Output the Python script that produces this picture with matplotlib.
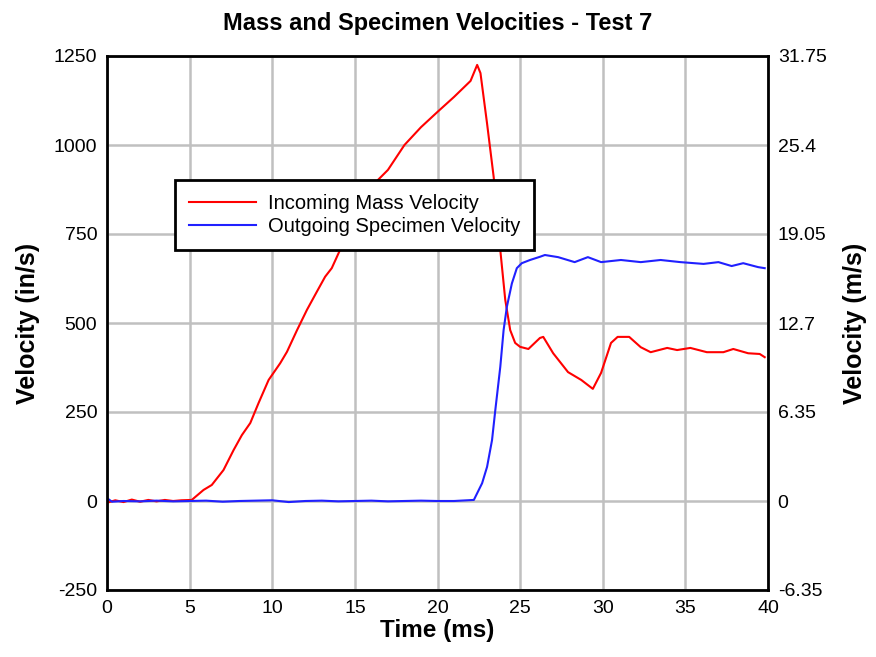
import matplotlib.pyplot as plt

plt.rcParams['font.family'] = ['Liberation Sans', 'DejaVu Sans']
plt.rcParams['axes.unicode_minus'] = False

# Incoming mass velocity (in/s)
t_mass = [0, 0.5, 1, 1.5, 2, 2.5, 3, 3.5, 4, 4.5, 5.13, 5.84, 6.34, 7.05, 7.66, 8.16,
          8.67, 9.17, 9.78, 10.48, 10.89, 11.5, 12.1, 12.7, 13.2, 13.6, 14.1, 15.2,
          16.4, 17.0, 18, 19, 20, 21, 22, 22.4, 22.6, 23.0, 23.4, 23.8, 24.1, 24.4,
          24.7, 25.0, 25.5, 26.2, 26.4, 27.0, 27.9, 28.7, 29.4, 29.9, 30.5, 30.9,
          31.6, 32.3, 32.9, 33.9, 34.5, 35.3, 36.3, 37.3, 37.9, 38.8, 39.5, 39.8]
v_mass = [-5, 2, -3, 4, -2, 3, -1, 3, 0, 2, 3, 31, 45, 87, 143, 185,
          219, 275, 340, 387, 419, 480, 537, 588, 630, 654, 705, 800,
          902, 930, 1000, 1050, 1093, 1135, 1180, 1225, 1202, 1060, 910, 705, 565, 480,
          444, 433, 427, 458, 461, 415, 362, 340, 315, 360, 444, 461,
          461, 432, 418, 430, 424, 430, 418, 418, 427, 415, 413, 404]

# Outgoing specimen velocity (in/s)
t_spec = [0, 0.3, 1, 2, 3, 4, 5, 6, 7, 8, 9, 10, 11, 12, 13, 14, 15, 16, 17, 18, 19, 20,
          21, 22.2, 22.7, 23.0, 23.3, 23.5, 23.8, 24.0, 24.2, 24.5, 24.8, 25.1, 25.6,
          26.2, 26.5, 27.3, 28.3, 29.1, 29.9, 31.1, 32.3, 33.5, 34.7, 36.1, 37.0, 37.8,
          38.5, 39.4, 39.8]
v_spec = [8, -2, 0, -1, 1, -1, 0, 1, -2, 0, 1, 2, -3, 0, 1, -1, 0, 1, -1, 0, 1, 0,
          0, 3, 50, 96, 171, 256, 377, 480, 546, 611, 654, 668, 677,
          686, 691, 685, 671, 685, 671, 677, 671, 677, 671, 666, 671, 660,
          668, 657, 654]

x_ticks = [0, 5, 10, 15, 20, 25, 30, 35, 40]
y_ticks = [-250, 0, 250, 500, 750, 1000, 1250]
y2_ticks = [-6.35, 0, 6.35, 12.7, 19.05, 25.4, 31.75]
y2_labels = ['-6.35', '0', '6.35', '12.7', '19.05', '25.4', '31.75']

fig = plt.figure(figsize=(8.76, 6.57), dpi=100)
ax = fig.add_axes([107 / 876, 1 - 590 / 657, 661 / 876, 534 / 657])

ax.plot(t_mass, v_mass, color='#ff0000', lw=1.5, label='Incoming Mass Velocity')
ax.plot(t_spec, v_spec, color='#2020ff', lw=1.5, label='Outgoing Specimen Velocity')

ax.set_xlim(0, 40)
ax.set_ylim(-250, 1250)
ax.set_xticks(x_ticks)
ax.set_yticks(y_ticks)
ax.grid(True, color='#c0c0c0', lw=1.8)
ax.set_axisbelow(True)
ax.tick_params(length=0, labelsize=14, pad=7)
for s in ax.spines.values():
    s.set_linewidth(2)
    s.set_color('black')

ax.set_xlabel('Time (ms)', fontsize=17.5, fontweight='bold', labelpad=2)
ax.set_ylabel('Velocity (in/s)', fontsize=18, fontweight='bold', labelpad=10)
ax.set_title('Mass and Specimen Velocities - Test 7', fontsize=17, fontweight='bold', pad=19)

ax2 = ax.twinx()
ax2.set_ylim(-6.35, 31.75)
ax2.set_yticks(y2_ticks)
ax2.set_yticklabels(y2_labels)
ax2.tick_params(length=0, labelsize=14, pad=7)
ax2.set_ylabel('Velocity (m/s)', fontsize=18, fontweight='bold', labelpad=12)
for s in ax2.spines.values():
    s.set_visible(False)

leg = ax.legend(loc='upper left', bbox_to_anchor=(0.103, 0.768), borderaxespad=0,
                fontsize=14.5, fancybox=False, framealpha=1, edgecolor='black',
                handlelength=3.3, borderpad=0.7, labelspacing=0.2, handletextpad=0.6)
leg.get_frame().set_linewidth(2)

fig.savefig('out.png', dpi=100)
